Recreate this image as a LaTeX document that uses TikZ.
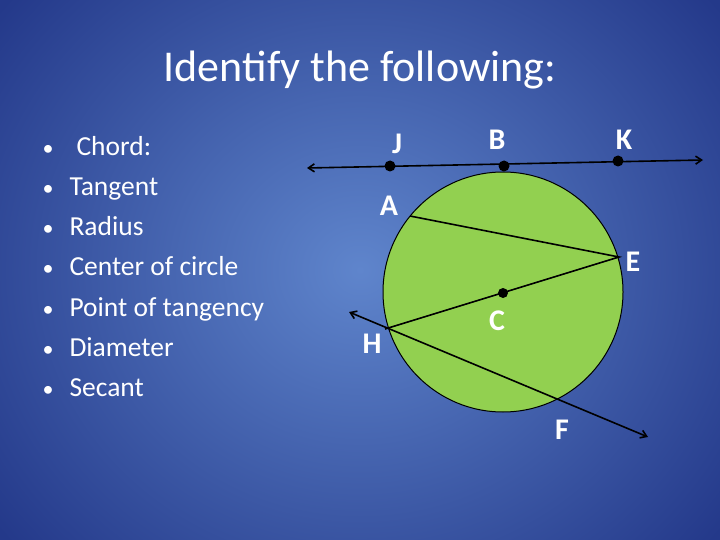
\documentclass[tikz,border=0pt]{standalone}
\usepackage{fontspec}
\setmainfont{Carlito}
\usetikzlibrary{arrows.meta}
\begin{document}
\begin{tikzpicture}[x=1pt,y=-1pt,
  lbl/.style={text=white,font=\bfseries\fontsize{30}{34}\selectfont},
  item/.style={text=white,anchor=base west,font=\fontsize{27.5}{32}\selectfont},
  dot/.style={circle,fill=black,inner sep=0pt,minimum size=11pt},
  ln/.style={black,line width=1.6pt}]
\useasboundingbox (0,0) rectangle (720,540);
\definecolor{bgin}{HTML}{5F85CC}
\definecolor{bgout}{HTML}{24398A}
\shade[inner color=bgin,outer color=bgout] (-100,-150) rectangle (820,690);
\node[text=white,font=\fontsize{44}{50}\selectfont] (title) at (360,70) {Identify the following:};
\foreach \t/\x [count=\i] in {Chord:/77,Tangent/70,Radius/70,Center of circle/70,Point of tangency/70,Diameter/70,Secant/70}{
  \node[text=white,anchor=base,font=\fontsize{22}{26}\selectfont] (b\i) at (48,115+40.2*\i) {\textbullet};
  \node[item] (t\i) at (\x-4,115+40.2*\i) {\t};
}
\node[draw=black,line width=1pt,fill={rgb,255:red,146;green,208;blue,80},circle,minimum size=240pt,inner sep=0pt] (circ) at (503,292) {};
\coordinate (L1) at (307,168); \coordinate (L2) at (703,160);
\draw[ln,{Straight Barb[length=6pt,width=8pt]}-{Straight Barb[length=6pt,width=8pt]}] (L1) -- (L2);
\node[dot] (J) at (390,166) {};
\node[dot] (B) at (504,166) {};
\node[dot] (K) at (618,161) {};
\coordinate (A) at (410,216);
\coordinate (E) at (619,257);
\coordinate (H) at (385,329);
\node[dot,minimum size=10pt] (C) at (503,293) {};
\draw[ln] (A) -- (E) -- (H);
\coordinate (S1) at (349,312); \coordinate (S2) at (648,437);
\draw[ln,{Straight Barb[length=6pt,width=8pt]}-{Straight Barb[length=6pt,width=8pt]}] (S1) -- (S2);
\node[lbl] (lJ) at (397,144) {J};
\node[lbl] (lB) at (497,140) {B};
\node[lbl] (lK) at (624,140) {K};
\node[lbl] (lA) at (389,206) {A};
\node[lbl] (lE) at (633,262) {E};
\node[lbl] (lC) at (497,321) {C};
\node[lbl] (lH) at (372,344) {H};
\node[lbl] (lF) at (562,430) {F};
\end{tikzpicture}
\end{document}
